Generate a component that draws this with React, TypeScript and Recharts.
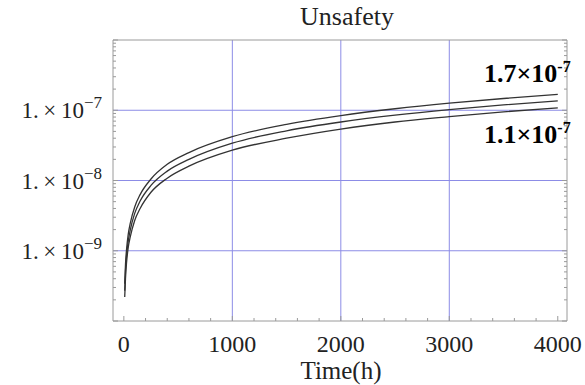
import { LineChart, Line, XAxis, YAxis, ReferenceLine } from 'recharts';

// hours
const times = [8, 15, 25, 40, 60, 100, 150, 250, 400, 600, 1000, 1500, 2000, 2500, 3000, 3500, 4000];
// unsafety, three curves (upper, middle, lower)
const upper = [3.4e-10, 6.3e-10, 1.05e-9, 1.7e-9, 2.5e-9, 4.2e-9, 6.3e-9, 1.05e-8, 1.7e-8, 2.5e-8, 4.2e-8, 6.3e-8, 8.4e-8, 1.05e-7, 1.26e-7, 1.47e-7, 1.68e-7];
const middle = [2.7e-10, 5.1e-10, 8.5e-10, 1.35e-9, 2.0e-9, 3.4e-9, 5.1e-9, 8.5e-9, 1.36e-8, 2.0e-8, 3.4e-8, 5.1e-8, 6.8e-8, 8.5e-8, 1.02e-7, 1.19e-7, 1.36e-7];
const lower = [2.2e-10, 4.0e-10, 6.8e-10, 1.1e-9, 1.6e-9, 2.7e-9, 4.0e-9, 6.8e-9, 1.08e-8, 1.6e-8, 2.7e-8, 4.0e-8, 5.4e-8, 6.8e-8, 8.1e-8, 9.5e-8, 1.08e-7];

const xTicks = [0, 200, 400, 600, 800, 1000, 1200, 1400, 1600, 1800, 2000, 2200, 2400, 2600, 2800, 3000, 3200, 3400, 3600, 3800, 4000];
const xLabels = [0, 1000, 2000, 3000, 4000];
const xGrid = [1000, 2000, 3000];
const decades = [1e-10, 1e-9, 1e-8, 1e-7];
const mults = [1, 2, 3, 4, 5, 6, 7, 8, 9];
const yLabelExps = [-9, -8, -7];
const yGrid = [1e-9, 1e-8, 1e-7];

const yTicks = [...decades.flatMap((d) => mults.map((m) => m * d)), 1e-6];

const data = times.map((t, i) => ({ t, upper: upper[i], middle: middle[i], lower: lower[i] }));

const font = '"Liberation Serif", "Times New Roman", serif';
const gridColor = '#8c8ce6';
const frameColor = '#9a9a9a';
const curveColor = '#333333';

const exponentOf = (v: number) => {
  const l = Math.log10(v);
  const r = Math.round(l);
  return Math.abs(l - r) < 1e-6 ? r : null;
};

const LeftTick = (props: any) => {
  const { x, y, payload } = props;
  const e = exponentOf(payload.value);
  const len = e !== null ? 5 : 3;
  return (
    <g>
      <line x1={x} y1={y} x2={x + len} y2={y} stroke={frameColor} />
      {e !== null && yLabelExps.includes(e) && (
        <text x={x - 11} y={y + 8} textAnchor="end" fontFamily={font} fontSize={23} fill="#222">
          <tspan>{'1.\u2009×\u200910'}</tspan>
          <tspan dy={-10} fontSize={17}>{'\u2212' + Math.abs(e)}</tspan>
        </text>
      )}
    </g>
  );
};

const RightTick = (props: any) => {
  const { x, y, payload } = props;
  const e = exponentOf(payload.value);
  const len = e !== null ? 5 : 3;
  return <line x1={x} y1={y} x2={x - len} y2={y} stroke={frameColor} />;
};

const BottomTick = (props: any) => {
  const { x, y, payload } = props;
  const major = payload.value % 1000 === 0;
  return (
    <g>
      <line x1={x} y1={y} x2={x} y2={y - (major ? 5 : 3)} stroke={frameColor} />
      {xLabels.includes(payload.value) && (
        <text x={x} y={y + 31} textAnchor="middle" fontFamily={font} fontSize={24} fill="#222">
          {payload.value}
        </text>
      )}
    </g>
  );
};

export default function App() {
  return (
    <div style={{ position: 'absolute', left: 0, top: 0, width: 585, height: 385, background: '#fff' }}>
      <LineChart width={585} height={385} data={data} margin={{ top: 40, right: 0, left: 0, bottom: 0 }}>
        <XAxis
          type="number"
          dataKey="t"
          domain={[-100, 4085]}
          allowDataOverflow
          ticks={xTicks}
          interval={0}
          tickSize={0}
          tickMargin={0}
          tickLine={false}
          tick={<BottomTick />}
          axisLine={{ stroke: frameColor }}
          height={64}
        />
        <YAxis
          yAxisId="l"
          type="number"
          scale="log"
          domain={[1e-10, 1e-6]}
          allowDataOverflow
          ticks={yTicks}
          interval={0}
          tickSize={0}
          tickMargin={0}
          tickLine={false}
          tick={<LeftTick />}
          axisLine={{ stroke: frameColor }}
          width={113}
        />
        <YAxis
          yAxisId="r"
          orientation="right"
          type="number"
          scale="log"
          domain={[1e-10, 1e-6]}
          allowDataOverflow
          ticks={yTicks}
          interval={0}
          tickSize={0}
          tickMargin={0}
          tickLine={false}
          tick={<RightTick />}
          axisLine={{ stroke: frameColor }}
          width={18}
        />
        {xGrid.map((v) => (
          <ReferenceLine key={'x' + v} x={v} yAxisId="l" stroke={gridColor} strokeWidth={1} />
        ))}
        {yGrid.map((v) => (
          <ReferenceLine key={'y' + v} y={v} yAxisId="l" stroke={gridColor} strokeWidth={1} />
        ))}
        <ReferenceLine y={1e-6} yAxisId="l" stroke={frameColor} />
        {['upper', 'middle', 'lower'].map((k) => (
          <Line
            key={k}
            yAxisId="l"
            dataKey={k}
            type="monotone"
            stroke={curveColor}
            strokeWidth={1.3}
            dot={false}
            isAnimationActive={false}
          />
        ))}
      </LineChart>
      <svg width={585} height={385} style={{ position: 'absolute', left: 0, top: 0, pointerEvents: 'none' }}>
        <text x={347} y={25} textAnchor="middle" fontFamily={font} fontSize={26} fill="#222">
          Unsafety
        </text>
        <text x={341} y={379} textAnchor="middle" fontFamily={font} fontSize={25} fill="#222">
          Time(h)
        </text>
        <text x={484} y={82} fontFamily={font} fontSize={26} fontWeight="bold" fill="#000">
          <tspan>1.7×10</tspan>
          <tspan dy={-10} fontSize={16}>-7</tspan>
        </text>
        <text x={484} y={143} fontFamily={font} fontSize={26} fontWeight="bold" fill="#000">
          <tspan>1.1×10</tspan>
          <tspan dy={-10} fontSize={16}>-7</tspan>
        </text>
      </svg>
    </div>
  );
}
